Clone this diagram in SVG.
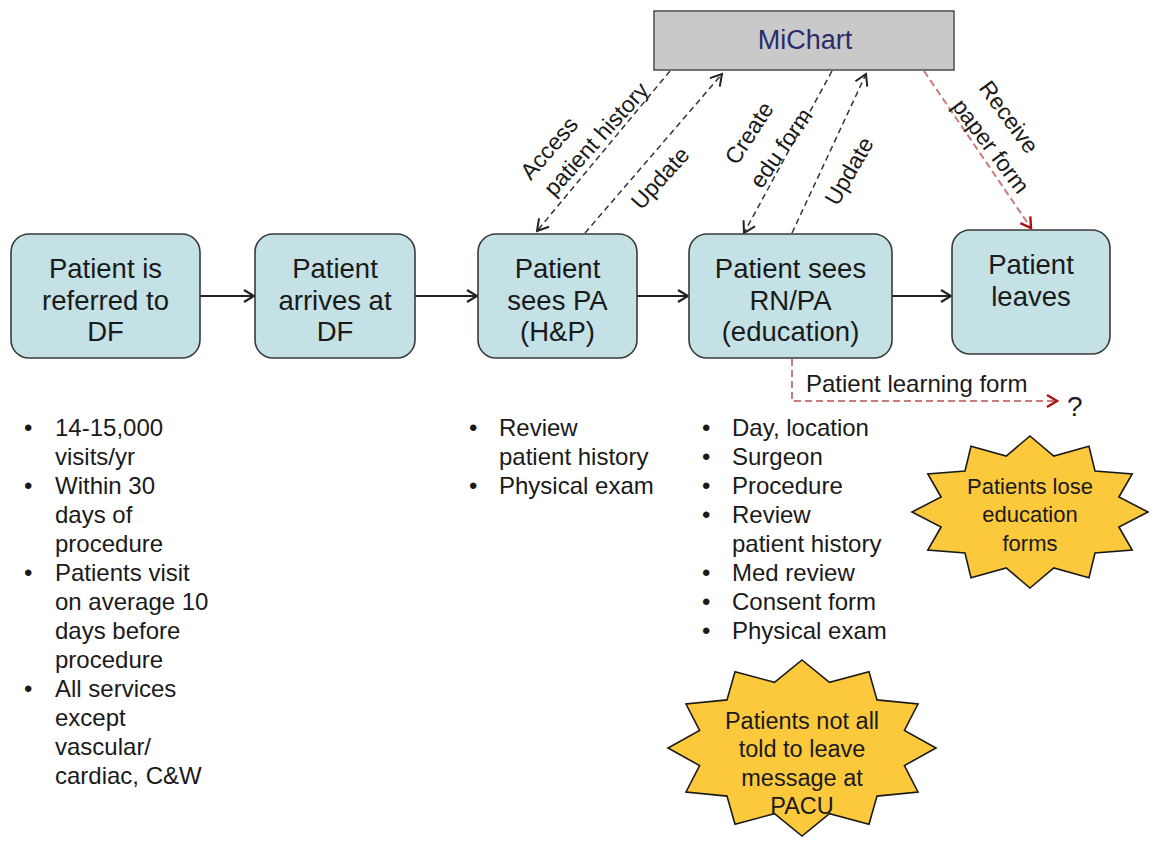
<svg xmlns="http://www.w3.org/2000/svg" width="1156" height="845" viewBox="0 0 1156 845">
<defs>
<style>
text{font-family:"Liberation Sans",Arial,sans-serif;fill:#1a1a1a}
.node{fill:#c4e1e5;stroke:#3a3a3a;stroke-width:1.6}
.nt{font-size:27.5px;text-anchor:middle}
.bl{font-size:24px}
.lb{font-size:23px;text-anchor:middle;dominant-baseline:central}
.star{fill:#fcc93c;stroke:#1a1a1a;stroke-width:1.6;stroke-linejoin:miter}
.st{font-size:22px;text-anchor:middle}
.st2{font-size:23.5px;text-anchor:middle}
.solid{fill:none;stroke:#222;stroke-width:2}
.dash{fill:none;stroke:#333;stroke-width:1.5;stroke-dasharray:6 4}
.rdash{fill:none;stroke:#c97a7a;stroke-width:2;stroke-dasharray:7 4}
</style>
<marker id="ab" viewBox="-12 -8 14 16" markerWidth="14" markerHeight="16" refX="0" refY="0" orient="auto" markerUnits="userSpaceOnUse"><path d="M-10,-6 L0,0 L-10,6" fill="none" stroke="#222" stroke-width="2.2"/></marker>
<marker id="ad" viewBox="-12 -8 14 16" markerWidth="14" markerHeight="16" refX="0" refY="0" orient="auto" markerUnits="userSpaceOnUse"><path d="M-11,-6.5 L0,0 L-11,6.5" fill="none" stroke="#222" stroke-width="2"/></marker>
<marker id="ar" viewBox="-12 -8 14 16" markerWidth="14" markerHeight="16" refX="0" refY="0" orient="auto" markerUnits="userSpaceOnUse"><path d="M-10,-6 L0,0 L-10,6" fill="none" stroke="#b01010" stroke-width="2.4"/></marker>
</defs>
<rect width="1156" height="845" fill="#ffffff"/>

<g id="connectors">
<line class="solid" x1="200" y1="296" x2="254" y2="296" marker-end="url(#ab)"/>
<line class="solid" x1="415" y1="296" x2="477" y2="296" marker-end="url(#ab)"/>
<line class="solid" x1="637" y1="296" x2="688" y2="296" marker-end="url(#ab)"/>
<line class="solid" x1="892" y1="296" x2="951" y2="296" marker-end="url(#ab)"/>
<line class="dash" x1="670" y1="71" x2="537" y2="231" marker-end="url(#ad)"/>
<line class="dash" x1="585" y1="233" x2="722" y2="74" marker-end="url(#ad)"/>
<line class="dash" x1="832" y1="71" x2="744" y2="233" marker-end="url(#ad)"/>
<line class="dash" x1="792" y1="233" x2="866" y2="74" marker-end="url(#ad)"/>
<line class="rdash" x1="924" y1="71" x2="1031" y2="228" marker-end="url(#ar)"/>
<path class="rdash" d="M792,359 V401 H1057" marker-end="url(#ar)"/>
<g id="conn-labels">
<text class="lb" transform="translate(549,148) rotate(-49)">Access</text>
<text class="lb" transform="translate(596,139) rotate(-48)">patient history</text>
<text class="lb" transform="translate(660,178) rotate(-48)">Update</text>
<text class="lb" transform="translate(749,133) rotate(-57)">Create</text>
<text class="lb" transform="translate(781,148) rotate(-55)">edu form</text>
<text class="lb" transform="translate(849,171) rotate(-60)">Update</text>
<text class="lb" transform="translate(1009,117) rotate(54)">Receive</text>
<text class="lb" transform="translate(991,146) rotate(53)">paper form</text>
<text style="font-size:24px" x="806" y="392">Patient learning form</text>
<text style="font-size:28px" x="1067" y="416">?</text>
</g>
</g>

<g id="michart">
<rect x="654" y="11" width="300" height="59" fill="#c9c9c9" stroke="#555" stroke-width="1.6"/>
<text x="805" y="49" style="font-size:27px;text-anchor:middle;fill:#2b2b6b">MiChart</text>
</g>

<g id="n1">
<rect class="node" x="11" y="234" width="189" height="124" rx="18"/>
<text class="nt" x="105.5" y="278">Patient is</text>
<text class="nt" x="105.5" y="309.5">referred to</text>
<text class="nt" x="105.5" y="341">DF</text>
</g>
<g id="n2">
<rect class="node" x="255" y="234" width="160" height="124" rx="18"/>
<text class="nt" x="335" y="278">Patient</text>
<text class="nt" x="335" y="309.5">arrives at</text>
<text class="nt" x="335" y="341">DF</text>
</g>
<g id="n3">
<rect class="node" x="478" y="234" width="159" height="124" rx="18"/>
<text class="nt" x="557.5" y="278">Patient</text>
<text class="nt" x="557.5" y="309.5">sees PA</text>
<text class="nt" x="557.5" y="341">(H&amp;P)</text>
</g>
<g id="n4">
<rect class="node" x="689" y="234" width="203" height="124" rx="18"/>
<text class="nt" x="790.5" y="278">Patient sees</text>
<text class="nt" x="790.5" y="309.5">RN/PA</text>
<text class="nt" x="790.5" y="341">(education)</text>
</g>
<g id="n5">
<rect class="node" x="952" y="230" width="158" height="124" rx="18"/>
<text class="nt" x="1031" y="274">Patient</text>
<text class="nt" x="1031" y="306">leaves</text>
</g>

<g id="list1" class="bl">
<text x="24" y="436">•</text><text x="55" y="436">14-15,000</text>
<text x="55" y="465">visits/yr</text>
<text x="24" y="494">•</text><text x="55" y="494">Within 30</text>
<text x="55" y="523">days of</text>
<text x="55" y="552">procedure</text>
<text x="24" y="581">•</text><text x="55" y="581">Patients visit</text>
<text x="55" y="610">on average 10</text>
<text x="55" y="639">days before</text>
<text x="55" y="668">procedure</text>
<text x="24" y="697">•</text><text x="55" y="697">All services</text>
<text x="55" y="726">except</text>
<text x="55" y="755">vascular/</text>
<text x="55" y="784">cardiac, C&amp;W</text>
</g>

<g id="list2" class="bl">
<text x="469" y="436">•</text><text x="499" y="436">Review</text>
<text x="499" y="465">patient history</text>
<text x="469" y="494">•</text><text x="499" y="494">Physical exam</text>
</g>

<g id="list3" class="bl">
<text x="702" y="436">•</text><text x="732" y="436">Day, location</text>
<text x="702" y="465">•</text><text x="732" y="465">Surgeon</text>
<text x="702" y="494">•</text><text x="732" y="494">Procedure</text>
<text x="702" y="523">•</text><text x="732" y="523">Review</text>
<text x="732" y="552">patient history</text>
<text x="702" y="581">•</text><text x="732" y="581">Med review</text>
<text x="702" y="610">•</text><text x="732" y="610">Consent form</text>
<text x="702" y="639">•</text><text x="732" y="639">Physical exam</text>
</g>

<g id="star1">
<polygon class="star" points="1030,436 1053.8,456 1089,446.2 1095,471 1132.2,474 1118.9,497 1148,512 1118.9,527 1132.2,550 1095,553 1089,577.8 1053.8,568 1030,588 1006.2,568 971,577.8 965,553 927.8,550 941.1,527 912,512 941.1,497 927.8,474 965,471 971,446.2 1006.2,456"/>
<text class="st" x="1030" y="494">Patients lose</text>
<text class="st" x="1030" y="522">education</text>
<text class="st" x="1030" y="551">forms</text>
</g>

<g id="star2">
<polygon class="star" points="802,660 829.5,682.3 869,671.8 877,699.9 918,704 904.4,730.4 936,748 904.4,765.6 918,792 877,796.1 869,824.2 829.5,813.7 802,836 774.5,813.7 735,824.2 727,796.1 686,792 699.6,765.6 668,748 699.6,730.4 686,704 727,699.9 735,671.8 774.5,682.3"/>
<text class="st2" x="802" y="729">Patients not all</text>
<text class="st2" x="802" y="757">told to leave</text>
<text class="st2" x="802" y="786">message at</text>
<text class="st2" x="802" y="814">PACU</text>
</g>
</svg>
